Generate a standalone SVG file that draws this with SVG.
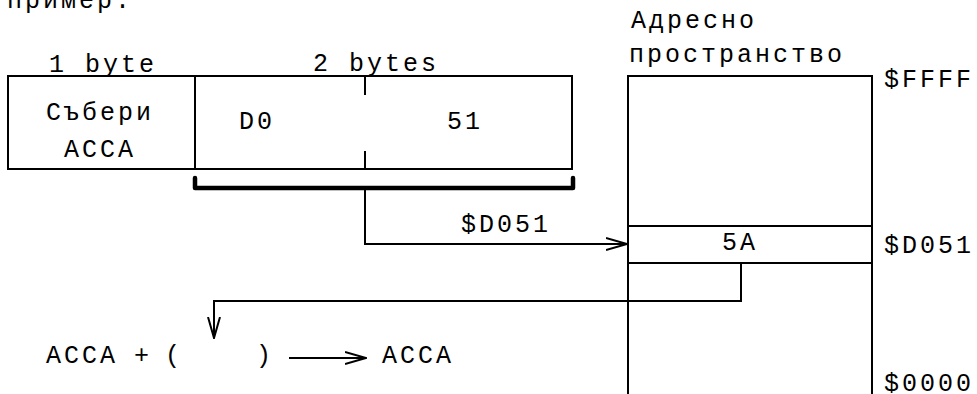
<svg xmlns="http://www.w3.org/2000/svg" width="977" height="394" viewBox="0 0 977 394">
<defs>
<style>
text{font-family:"Liberation Mono","Courier New",monospace;font-size:25px;letter-spacing:3px;fill:#000}
.ln{fill:none;stroke:#000;stroke-width:2}
.thin{fill:none;stroke:#000;stroke-width:1.6}
</style>
<marker id="arr" viewBox="0 0 22 14" refX="21" refY="7" markerWidth="22" markerHeight="14" markerUnits="userSpaceOnUse" orient="auto">
<path d="M0,1 L21,7 L0,13" fill="none" stroke="#000" stroke-width="2"/>
</marker>
</defs>
<rect width="977" height="394" fill="#fff"/>
<text x="7" y="8">пример.</text>
<g id="instruction">
<text x="49" y="72">1 byte</text>
<text x="313" y="71">2 bytes</text>
<rect class="ln" x="8" y="76" width="564" height="93"/>
<line class="ln" x1="195" y1="76" x2="195" y2="169"/>
<line class="ln" x1="365" y1="76" x2="365" y2="95"/>
<line class="ln" x1="365" y1="151" x2="365" y2="169"/>
<text x="46" y="120">Събери</text>
<text x="64" y="157">ACCA</text>
<text x="239" y="129">D0</text>
<text x="447" y="129">51</text>
</g>
<g id="bracket">
<path d="M195,178 L195,188 L573,188 L573,178" fill="none" stroke="#000" stroke-width="4.5" stroke-linejoin="round" stroke-linecap="round"/>
</g>
<g id="memory">
<text x="631" y="28">Адресно</text>
<text x="629" y="62">пространство</text>
<path class="ln" d="M628,394 L628,76 L872,76 L872,394"/>
<rect class="ln" x="628" y="226" width="244" height="37"/>
<text x="722" y="250">5A</text>
<text x="884" y="87">$FFFF</text>
<text x="884" y="253">$D051</text>
<text x="884" y="391">$0000</text>
</g>
<g id="formula">
<text x="46" y="363">ACCA</text>
<text x="134" y="363">+</text>
<text x="165" y="363">(</text>
<text x="256" y="363">)</text>
<text x="382" y="363">ACCA</text>
</g>
<g id="connectors">
<text x="461" y="232">$D051</text>
<path class="ln" d="M365,188 L365,244 L627,244" marker-end="url(#arr)"/>
<path class="ln" d="M741,263 L741,301 L214,301 L214,338" marker-end="url(#arr)"/>
<path class="ln" d="M289,358 L366,358" marker-end="url(#arr)"/>
</g>
</svg>
